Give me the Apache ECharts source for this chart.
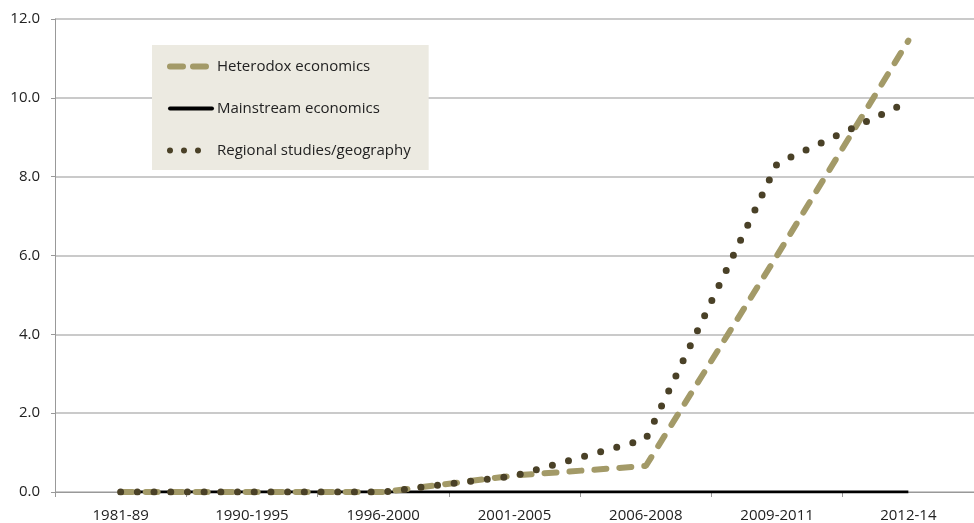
<!DOCTYPE html>
<html><head><meta charset="utf-8">
<script src="https://cdn.jsdelivr.net/npm/echarts@6/dist/echarts.min.js"></script>
<style>html,body{margin:0;padding:0;background:#fff}#c{width:974px;height:523px}</style>
</head><body><div id="c"></div>
<script>
const categories = ['1981-89','1990-1995','1996-2000','2001-2005','2006-2008','2009-2011','2012-14'];
const heterodox = [0, 0, 0, 0.42, 0.66, 6.0, 11.45];
const mainstream = [0, 0, 0, 0, 0, 0, 0];
const regional = [0, 0, 0, 0.41, 1.34, 8.33, 9.9];
const yTicks = ['0.0','2.0','4.0','6.0','8.0','10.0','12.0'];

const font = 'Open Sans';
const chart = echarts.init(document.getElementById('c'));
chart.setOption({
  animation: false,
  grid: {left: 55, top: 19, bottom: 29, right: -12},
  legend: {
    orient: 'vertical', left: 152, top: 45,
    padding: [14, 18, 12, 15],
    backgroundColor: '#ECEAE1',
    itemWidth: 42, itemHeight: 14, itemGap: 27,
    itemStyle: {opacity: 0},
    textStyle: {fontFamily: font, fontSize: 15, color: '#222'},
    data: [
      {name: 'Heterodox economics', lineStyle: {width: 6, type: [13, 10], cap: 'round', color: '#A39A68'}},
      {name: 'Mainstream economics', lineStyle: {width: 4, type: 'solid', cap: 'round', color: '#000'}},
      {name: 'Regional studies/geography', lineStyle: {width: 6, type: [0, 14], cap: 'round', color: '#4A4127'}}
    ]
  },
  xAxis: {
    type: 'category', data: categories, boundaryGap: true,
    axisLine: {lineStyle: {color: '#999', width: 1}},
    axisTick: {show: true, length: 5, lineStyle: {color: '#999'}},
    axisLabel: {fontFamily: font, fontSize: 15, color: '#222', margin: 16}
  },
  yAxis: {
    type: 'value', min: 0, max: 12, interval: 2,
    axisLine: {show: true, lineStyle: {color: '#999'}},
    axisTick: {show: true, length: 4, lineStyle: {color: '#999'}},
    splitLine: {lineStyle: {color: '#b8b8b8', width: 1.5}},
    axisLabel: {fontFamily: font, fontSize: 15, color: '#222', margin: 15,
      formatter: (v) => yTicks[Math.round(v / 2)]}
  },
  series: [
    {name: 'Heterodox economics', type: 'line', data: heterodox, symbol: 'none', z: 3,
      itemStyle: {color: '#A39A68'},
      lineStyle: {color: '#A39A68', width: 6, type: [12, 13], cap: 'round'}},
    {name: 'Mainstream economics', type: 'line', data: mainstream, symbol: 'none', z: 2,
      itemStyle: {color: '#000'},
      lineStyle: {color: '#000', width: 3}},
    {name: 'Regional studies/geography', type: 'line', data: regional, symbol: 'none', z: 4,
      itemStyle: {color: '#4A4127'},
      lineStyle: {color: '#4A4127', width: 7, type: [0, 16.7], cap: 'round'}}
  ]
});
</script></body></html>
